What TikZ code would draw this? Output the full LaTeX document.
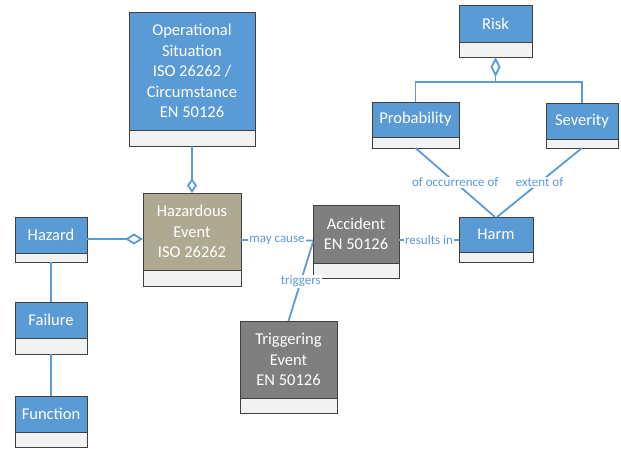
\documentclass[tikz,border=0pt]{standalone}
\usepackage{fontspec}
\setmainfont{Carlito}
\usetikzlibrary{arrows.meta,calc}
\definecolor{cblue}{HTML}{5B9BD5}
\definecolor{ctan}{HTML}{B0A991}
\definecolor{cgray}{HTML}{7F7F7F}
\definecolor{ccomp}{HTML}{F2F2F2}
\definecolor{cborder}{HTML}{404040}
\begin{document}
\begin{tikzpicture}[x=1pt,y=-1pt,
 hdr/.style={draw=cborder, line width=0.8pt, text=white, align=center, font=\fontsize{16.5}{20.5}\selectfont, inner sep=0pt, outer sep=0pt},
 cmp/.style={draw=cborder, line width=0.8pt, fill=ccomp, inner sep=0pt, outer sep=0pt, anchor=north},
 conn/.style={draw=cblue, line width=1.8pt},
 lbl/.style={text=cblue, fill=white, font=\fontsize{13}{15}\selectfont, inner sep=1pt}]
\useasboundingbox (0,0) rectangle (621,448);
% boxes
\node[hdr, fill=cblue, minimum width=126pt, minimum height=118pt] (os) at (192,71) {Operational\\Situation\\ISO 26262 /\\Circumstance\\EN 50126};
\node[cmp, minimum width=126pt, minimum height=16pt] (osc) at (os.south) {};
\node[hdr, fill=ctan, minimum width=98pt, minimum height=77pt] (he) at (192,231.5) {Hazardous\\Event\\ISO 26262};
\node[cmp, minimum width=98pt, minimum height=16pt] (hec) at (he.south) {};
\node[hdr, fill=cblue, minimum width=72pt, minimum height=36pt] (hazard) at (51,235) {Hazard};
\node[cmp, minimum width=72pt, minimum height=9pt] (hazardc) at (hazard.south) {};
\node[hdr, fill=cblue, minimum width=72pt, minimum height=36pt] (failure) at (51,320) {Failure};
\node[cmp, minimum width=72pt, minimum height=16pt] (failurec) at (failure.south) {};
\node[hdr, fill=cblue, minimum width=72pt, minimum height=36pt] (function) at (51,414) {Function};
\node[cmp, minimum width=72pt, minimum height=15pt] (functionc) at (function.south) {};
\node[hdr, fill=cblue, minimum width=73pt, minimum height=37pt] (risk) at (495.5,23.5) {Risk};
\node[cmp, minimum width=73pt, minimum height=15pt] (riskc) at (risk.south) {};
\node[hdr, fill=cblue, minimum width=87pt, minimum height=35pt] (prob) at (415.5,119.5) {Probability};
\node[cmp, minimum width=87pt, minimum height=11pt] (probc) at (prob.south) {};
\node[hdr, fill=cblue, minimum width=72pt, minimum height=36pt] (sev) at (582,121) {Severity};
\node[cmp, minimum width=72pt, minimum height=9pt] (sevc) at (sev.south) {};
\node[hdr, fill=cblue, minimum width=74pt, minimum height=35pt] (harm) at (496,234.5) {Harm};
\node[cmp, minimum width=74pt, minimum height=10pt] (harmc) at (harm.south) {};
\node[hdr, fill=cgray, minimum width=86pt, minimum height=58pt] (acc) at (356,234) {Accident\\EN 50126};
\node[cmp, minimum width=86pt, minimum height=15pt] (accc) at (acc.south) {};
\node[hdr, fill=cgray, minimum width=97pt, minimum height=77pt] (trig) at (288.5,359.5) {Triggering\\Event\\EN 50126};
\node[cmp, minimum width=97pt, minimum height=15pt] (trigc) at (trig.south) {};
% connectors
\draw[conn, -{Diamond[open,fill=white,length=15pt,width=10pt]}] (osc.south) -- (he.north);
\draw[conn, -{Diamond[open,fill=white,length=18pt,width=11pt]}] ($(hazard.east)+(0,4)$) -- ($(he.west)+(0,7.5)$);
\draw[conn] (hazardc.south) -- (failure.north);
\draw[conn] (failurec.south) -- (function.north);
\draw[conn] ($(he.east)+(0,8.5)$) -- node[lbl]{may cause} ($(acc.west)+(0,6.5)$);
\draw[conn] (trig.north) -- node[lbl]{triggers} ($(acc.west)+(0,8)$);
\draw[conn] ($(acc.east)+(0,6)$) -- node[lbl]{results in} ($(harm.west)+(0,5.5)$);
\draw[conn] (probc.south) -- node[lbl]{of occurrence of} ($(harm.north)+(-1,0)$);
\draw[conn] (sevc.south) -- node[lbl]{extent of} ($(harm.north)+(1,0)$);
\draw[conn, {Diamond[open,fill=white,length=20pt,width=10pt]}-] (riskc.south) -- ++(0,25) -| (prob.north);
\draw[conn] ($(riskc.south)+(0,25)$) -| (sev.north);
\end{tikzpicture}
\end{document}
